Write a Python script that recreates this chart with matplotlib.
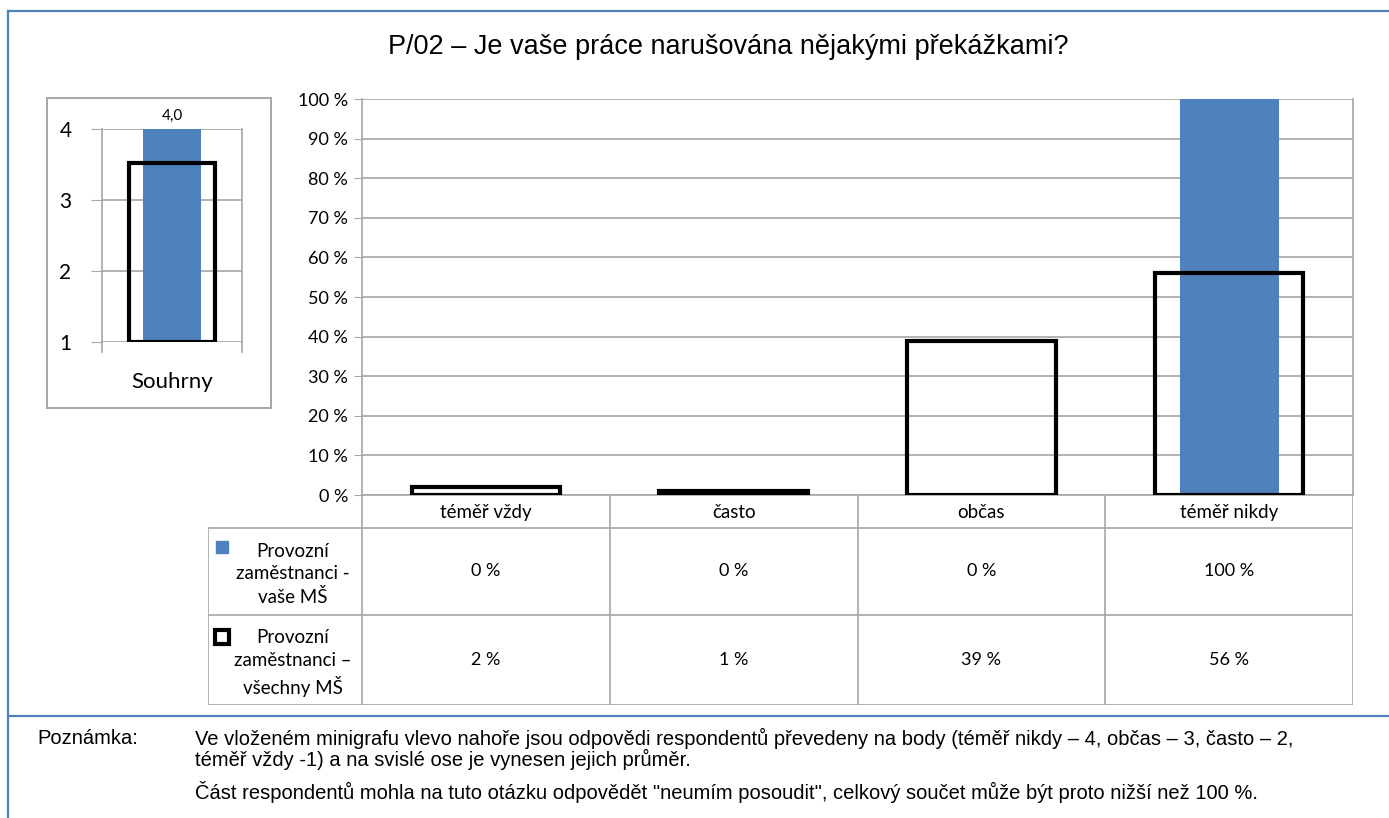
import matplotlib.pyplot as plt
from matplotlib.patches import Rectangle
from matplotlib.lines import Line2D

# data
categories = ["téměř vždy", "často", "občas", "téměř nikdy"]
school = [0, 0, 0, 100]          # Provozní zaměstnanci - vaše MŠ
all_schools = [2, 1, 39, 56]     # Provozní zaměstnanci – všechny MŠ
series_names = ["Provozní\nzaměstnanci -\nvaše MŠ", "Provozní\nzaměstnanci –\nvšechny MŠ"]
mini_school = 4.0
mini_all = 3.52
mini_label = "Souhrny"

title = "P/02 – Je vaše práce narušována nějakými překážkami?"
note_head = "Poznámka:"
note_lines = [
    "Ve vloženém minigrafu vlevo nahoře jsou odpovědi respondentů převedeny na body (téměř nikdy – 4, občas – 3, často – 2,",
    "téměř vždy -1) a na svislé ose je vynesen jejich průměr.",
    "Část respondentů mohla na tuto otázku odpovědět \"neumím posoudit\", celkový součet může být proto nižší než 100 %.",
]

BLUE = "#4F81BD"
GRID = "#A6A6A6"
W, H = 1389, 818
CAL = ["Lato", "DejaVu Sans"]
ARIAL = ["Liberation Sans", "DejaVu Sans"]

fig = plt.figure(figsize=(W / 100, H / 100), dpi=100)


def fx(px):
    return px / W


def fy(py):
    return 1 - py / H


# outer frame
fig.add_artist(Line2D([fx(8), 1], [fy(11), fy(11)], color=BLUE, lw=1.6))
fig.add_artist(Line2D([fx(8), fx(8)], [fy(11), 0], color=BLUE, lw=1.6))
fig.add_artist(Line2D([fx(8), 1], [fy(716), fy(716)], color=BLUE, lw=1.6))

fig.text(fx(728), fy(47), title, ha="center", va="center", fontsize=19.5, family=ARIAL)

# main chart
L, R, T, B = 362, 1353, 99, 495
ax = fig.add_axes([fx(L), fy(B), fx(R - L), (B - T) / H])
x = list(range(len(categories)))
ax.bar(x, school, width=0.4, color=BLUE, zorder=2)
ax.bar(x, all_schools, width=0.6, facecolor="none", edgecolor="black", linewidth=3, zorder=3)
ax.set_xlim(-0.5, len(categories) - 0.5)
ax.set_ylim(0, 100)
ax.set_yticks(range(0, 101, 10))
ax.set_yticklabels([f"{v} %" for v in range(0, 101, 10)], family=CAL, fontsize=13)
ax.set_xticks([])
ax.yaxis.grid(True, color=GRID, lw=1.2, zorder=0)
ax.tick_params(axis="y", length=6, color=GRID, pad=4)
for s in ax.spines.values():
    s.set_color(GRID)
    s.set_linewidth(1.2)
ax.spines["top"].set_visible(False)
ax.set_axisbelow(True)

# data table below the chart, same x scale as main axes
TL, TB = 208, 705
step = (R - L) / len(categories)
x0 = -0.5 - (L - TL) / step
tab = fig.add_axes([fx(TL), fy(TB), fx(R - TL), (TB - B) / H])
tab.set_xlim(x0, len(categories) - 0.5)
tab.set_ylim(TB, B)
tab.axis("off")
row_edges = [B, 528, 615, TB]
for i in range(len(categories) + 1):
    tab.plot([i - 0.5, i - 0.5], [B, TB], color=GRID, lw=1.2)
tab.plot([x0, x0], [row_edges[1], TB], color=GRID, lw=1.2)
for yy in row_edges[1:]:
    tab.plot([x0, len(categories) - 0.5], [yy, yy], color=GRID, lw=1.2)
for i, c in enumerate(categories):
    tab.text(i, (B + 528) / 2 + 1, c, ha="center", va="center", fontsize=13.5, family=CAL)
for r, vals in enumerate([school, all_schools]):
    yc = (row_edges[r + 1] + row_edges[r + 2]) / 2
    for i, v in enumerate(vals):
        tab.text(i, yc, f"{v} %", ha="center", va="center", fontsize=13, family=CAL)
    tab.text(x0 + 85 / step, yc + 3, series_names[r], ha="center", va="center",
             fontsize=13.5, family=CAL, linespacing=1.4)
mx = x0 + 14 / step
tab.plot(mx, 547, marker="s", ms=9, color=BLUE, ls="none")
tab.plot(mx, 637, marker="s", ms=10, mfc="white", mec="black", mew=3, ls="none")

# mini chart
fig.add_artist(Rectangle((fx(47), fy(408)), fx(271 - 47), (408 - 98) / H,
                         fill=False, edgecolor=GRID, lw=1.4))
mL, mR, mT, mB = 102, 242, 129, 342
mx_ax = fig.add_axes([fx(mL), fy(mB), fx(mR - mL), (mB - mT) / H])
mx_ax.bar(0, mini_school - 1, bottom=1, width=0.41, color=BLUE, zorder=2)
mx_ax.bar(0, mini_all - 1, bottom=1, width=0.61, facecolor="none", edgecolor="black",
          linewidth=3, zorder=3)
mx_ax.set_xlim(-0.5, 0.5)
mx_ax.set_ylim(1, 4)
mx_ax.set_yticks([1, 2, 3, 4])
mx_ax.set_yticklabels(["1", "2", "3", "4"], family=CAL, fontsize=15)
mx_ax.set_xticks([])
mx_ax.yaxis.grid(True, color=GRID, lw=1.2)
mx_ax.tick_params(axis="y", length=8, color=GRID, pad=14)
for s in mx_ax.spines.values():
    s.set_color(GRID)
    s.set_linewidth(1.2)
mx_ax.spines["top"].set_visible(False)
mx_ax.spines["bottom"].set_visible(False)
mx_ax.set_axisbelow(True)
for xe in (-0.5, 0.5):
    mx_ax.plot([xe, xe], [1, 0.86], color=GRID, lw=1.2, clip_on=False)
mx_ax.text(0, 4.18, f"{mini_school:.1f}".replace(".", ","), ha="center", va="center",
           fontsize=11, family=CAL, bbox=dict(facecolor="white", edgecolor="none", pad=1.5))
mx_ax.text(0, 0.43, mini_label, ha="center", va="center", fontsize=16, family=CAL)

# notes
fig.text(fx(37), fy(738), note_head, ha="left", va="center", fontsize=14.5, family=ARIAL)
for yy, line in zip([738, 759, 792], note_lines):
    fig.text(fx(195), fy(yy), line, ha="left", va="center", fontsize=14.5, family=ARIAL)

fig.savefig("out.png", dpi=100)
